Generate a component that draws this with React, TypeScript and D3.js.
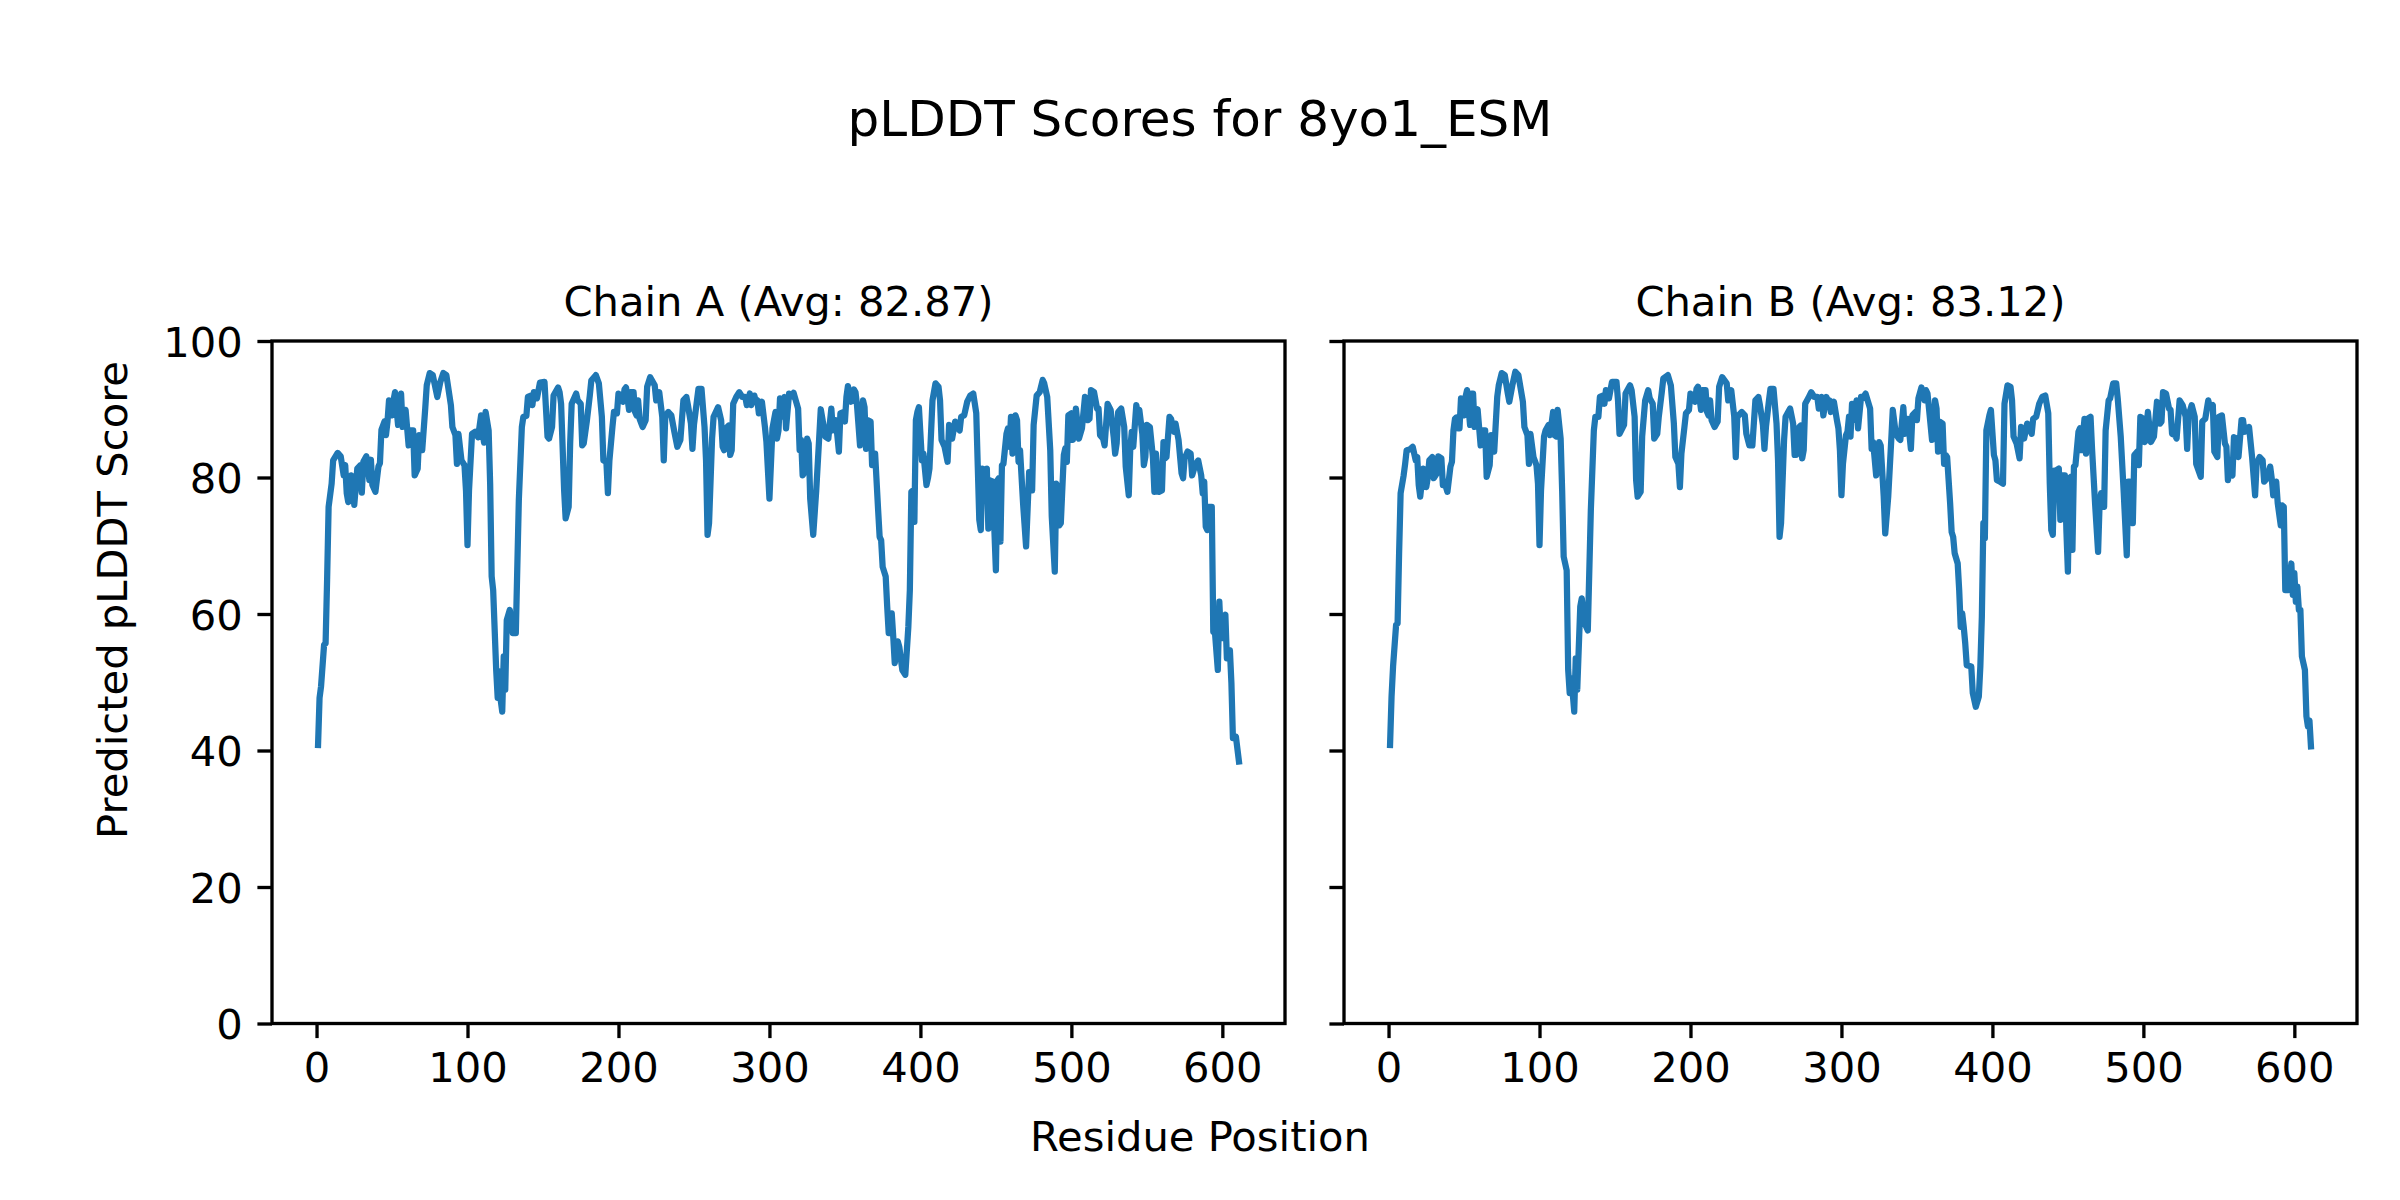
import React, { useEffect, useRef } from 'react';
import * as d3 from 'd3';

const LINE_COLOR = '#1f77b4';
const FONT = '"DejaVu Sans", sans-serif';
const W = 2400;
const H = 1200;
const PLOT = { top: 341, bottom: 1023.5, width: 1013 };
const PANEL_LEFT = [272, 1344];
const TICK = 14.6;
const STROKE = 3.33;

const FIG_TITLE = 'pLDDT Scores for 8yo1_ESM';
const PANEL_TITLES = ['Chain A (Avg: 82.87)', 'Chain B (Avg: 83.12)'];
const X_LABEL = 'Residue Position';
const Y_LABEL = 'Predicted pLDDT Score';
const X_TICKS = [0, 100, 200, 300, 400, 500, 600];
const Y_TICKS = [0, 20, 40, 60, 80, 100];
const X_DOMAIN: [number, number] = [-29.5, 641.5];

// [residue, pLDDT]
const chainA: [number, number][] = [
  [1, 40.8], [2, 47.7], [3, 49.4], [5, 55.5], [6, 55.7], [7, 65], [8, 75.7], [10, 79.1], [11, 82.5], [14, 83.6],
  [16, 83.1], [18, 80.3], [19, 81.8], [20, 77.7], [21, 76.4], [23, 80.3], [24, 80], [25, 76], [27, 81.3], [29, 81.8],
  [30, 77.8], [31, 82.3], [33, 83.1], [35, 79.6], [36, 82.6], [37, 78.9], [39, 77.9], [41, 81.6], [42, 82.1], [43, 87],
  [45, 88.2], [46, 86.2], [47, 88.2], [48, 91.3], [50, 89.1], [51, 91.3], [52, 92.5], [54, 87.7], [55, 91.3], [56, 92.3],
  [57, 87.4], [59, 89.9], [61, 84.7], [62, 86.9], [64, 86.9], [65, 80.3], [67, 81.3], [68, 86.2], [70, 84], [72, 90.1],
  [73, 93.5], [75, 95.3], [77, 95], [80, 91.8], [82, 94], [84, 95.3], [86, 95], [89, 90.6], [90, 87.4], [92, 86.2],
  [93, 82], [94, 86.4], [96, 82.5], [98, 81.8], [99, 78.1], [100, 70.1], [101, 78.1], [103, 86.4], [105, 86.7], [107, 85.9],
  [109, 89.1], [110, 86.5], [111, 85.1], [112, 89.6], [114, 86.9], [115, 79.1], [116, 65.5], [117, 63.5], [119, 51.8], [120, 47.7],
  [121, 51.6], [122, 47.4], [123, 45.7], [124, 53.8], [125, 48.9], [126, 59.1], [128, 60.6], [130, 57.2], [132, 57.2], [134, 76.7],
  [136, 87.4], [137, 88.9], [139, 89], [140, 91.8], [142, 92], [143, 90.6], [144, 92.5], [146, 91.6], [148, 93.9], [151, 94],
  [153, 86], [154, 85.7], [156, 87.4], [157, 92], [160, 93.2], [161, 92.5], [162, 90.8], [164, 78.1], [165, 74], [167, 75.7],
  [168, 85], [169, 90.8], [172, 92.3], [173, 91.3], [175, 90.8], [176, 84.7], [177, 85], [179, 88.2], [181, 92], [182, 94.2],
  [185, 95], [187, 93.8], [189, 88.9], [190, 82.5], [192, 82.3], [193, 77.7], [194, 82.5], [196, 87.4], [197, 89.6], [199, 89.4],
  [200, 92.3], [203, 91.1], [204, 92.9], [205, 93.2], [207, 89.9], [208, 92.5], [210, 92.5], [211, 89.6], [212, 89.1], [213, 91.3],
  [214, 88.6], [216, 87.4], [218, 88.4], [219, 93.3], [221, 94.7], [224, 93.5], [225, 91.3], [227, 92.5], [229, 88.9], [230, 82.5],
  [231, 88.9], [233, 89.6], [235, 89.1], [237, 86.7], [239, 84.5], [241, 85.5], [243, 91.3], [245, 91.8], [246, 90.6], [248, 87.9],
  [249, 84.2], [250, 87.7], [252, 91.3], [253, 93], [255, 93], [257, 87.4], [258, 82.5], [259, 71.6], [260, 73.3], [262, 85.7],
  [263, 88.9], [266, 90.3], [268, 88.4], [269, 84.5], [270, 84], [272, 87.4], [273, 87.6], [274, 83.3], [275, 84], [276, 90.8],
  [278, 91.8], [280, 92.5], [282, 91.8], [284, 91.8], [285, 90.6], [287, 92.3], [288, 90.6], [290, 92], [291, 91.1], [292, 91.3],
  [293, 89.4], [295, 91.1], [297, 87.4], [298, 85.2], [300, 76.9], [301, 82], [302, 87.2], [304, 89.6], [305, 85.7], [306, 86.9],
  [307, 91.6], [308, 88.9], [310, 91.8], [311, 87.2], [313, 92.3], [314, 91.8], [316, 92.4], [319, 90.1], [320, 84], [321, 85.5],
  [322, 80.3], [324, 81], [325, 85.7], [326, 85], [327, 76.9], [329, 71.6], [331, 78.1], [333, 86], [334, 90], [336, 87.4],
  [337, 86], [339, 85.7], [341, 90.1], [342, 86.9], [344, 88.4], [346, 83.8], [347, 89.4], [349, 89.6], [350, 88.2], [351, 91.8],
  [352, 93.4], [354, 91.1], [356, 92.9], [357, 92.5], [358, 90.6], [360, 84.7], [361, 87.4], [362, 91.3], [363, 90.3], [364, 84.2],
  [365, 88.4], [367, 88.2], [368, 81.8], [369, 83.5], [370, 83.5], [372, 75.2], [373, 71.3], [374, 70.8], [375, 66.9], [377, 65.5],
  [378, 61.1], [379, 57.2], [380, 57.2], [381, 60.1], [382, 56.7], [383, 52.8], [385, 56], [386, 55.2], [388, 51.8], [390, 51.1],
  [392, 58.1], [393, 63.5], [394, 77.9], [395, 78.1], [396, 73.5], [397, 88.4], [398, 89.6], [399, 90.3], [401, 82.5], [402, 83.5],
  [404, 78.9], [405, 79.9], [406, 81.3], [408, 91.3], [410, 93.8], [412, 93.3], [413, 91.3], [414, 85.5], [416, 84.5], [418, 82.3],
  [419, 87.7], [421, 85.7], [423, 88.2], [424, 87.7], [426, 86.9], [427, 88.9], [429, 89.1], [431, 91.1], [433, 92], [435, 92.3],
  [437, 89.4], [438, 81.6], [439, 73.8], [440, 72.3], [441, 81.3], [442, 81.1], [444, 81.3], [445, 72.5], [446, 79.6], [448, 79.4],
  [449, 72.3], [450, 66.4], [451, 79.6], [452, 79.9], [453, 70.6], [454, 81.8], [455, 82], [457, 86.4], [458, 87.2], [459, 84.5],
  [460, 88.9], [461, 83.5], [463, 89.1], [464, 88.4], [465, 82.3], [466, 84], [468, 76.2], [470, 69.9], [472, 80.8], [474, 78.1],
  [475, 87.7], [477, 92], [479, 92.5], [481, 94.3], [482, 93.8], [484, 91.8], [486, 84], [487, 74.3], [489, 66.2], [490, 79.1],
  [491, 78.6], [492, 73], [493, 73.3], [495, 83.3], [496, 84.3], [497, 82.3], [498, 89.1], [500, 89.4], [501, 85.5], [503, 90.1],
  [505, 85.7], [507, 87.2], [509, 91.8], [510, 91.6], [511, 88.4], [512, 88.6], [513, 92.8], [515, 92.5], [517, 90.1], [518, 90.1],
  [519, 86.2], [521, 85.7], [522, 84.7], [524, 90.8], [526, 89.9], [528, 86], [529, 83.5], [530, 85], [531, 89.6], [533, 90.1],
  [535, 87.4], [536, 81.6], [538, 77.4], [539, 84.2], [540, 86.7], [541, 84.5], [543, 90.6], [544, 89.4], [545, 89.9], [547, 86.4],
  [548, 81.8], [549, 83], [550, 87.7], [552, 87.4], [554, 83], [555, 77.9], [556, 83.5], [558, 77.9], [560, 78.1], [561, 85.2],
  [562, 82.8], [563, 83], [565, 88.9], [566, 88.6], [568, 86.7], [569, 87.9], [571, 85.5], [573, 80.6], [574, 79.9], [575, 82.8],
  [577, 83.8], [579, 83.5], [580, 80.3], [582, 81.8], [584, 82.5], [586, 80.3], [587, 77.7], [588, 79.4], [589, 72.8], [590, 72.3],
  [591, 75.7], [593, 75.7], [594, 57.4], [595, 57.6], [597, 51.8], [598, 61.8], [599, 56.7], [600, 56.5], [601, 59.6], [602, 59.9],
  [603, 53.5], [605, 54.7], [606, 49.9], [607, 41.8], [609, 42], [611, 38.4],
];

const chainB: [number, number][] = [
  [1, 40.8], [2, 47.9], [3, 52.3], [5, 58.4], [6, 58.6], [7, 68.9], [8, 77.7], [10, 80.3], [11, 82], [12, 84],
  [14, 84.1], [16, 84.5], [18, 82.5], [19, 83], [20, 78.9], [21, 77.2], [23, 81.3], [25, 78.6], [26, 80], [27, 82.5],
  [29, 83], [30, 79.9], [32, 80.6], [33, 83.1], [35, 82.8], [36, 78.9], [37, 79.4], [39, 77.9], [41, 81.6], [42, 82.3],
  [43, 86.9], [44, 88.6], [45, 88.8], [46, 87.2], [47, 87.2], [48, 91.6], [50, 89.1], [51, 91.8], [52, 92.8], [54, 87.7],
  [55, 92.3], [56, 92.3], [57, 87.4], [59, 90], [61, 84.7], [62, 86.9], [64, 86.9], [65, 80.1], [67, 81.8], [68, 86.2],
  [70, 83.8], [72, 91.8], [73, 93.5], [75, 95.3], [77, 95], [79, 92.3], [80, 91.1], [82, 93.5], [84, 95.5], [86, 95],
  [89, 91.1], [90, 87.4], [92, 86.2], [93, 82], [94, 86.4], [96, 83], [98, 81.8], [99, 79.1], [100, 70.1], [101, 78.1],
  [103, 86], [104, 86.9], [106, 87.7], [107, 86.2], [109, 89.6], [110, 86.2], [111, 86], [112, 89.9], [114, 85.7], [115, 78.1],
  [116, 68.4], [118, 66.4], [119, 51.8], [120, 48.4], [121, 50.6], [122, 48.4], [123, 45.7], [124, 53.5], [125, 48.9], [127, 61.1],
  [128, 62.3], [130, 58.6], [132, 57.6], [134, 75.2], [136, 86.9], [137, 88.9], [139, 88.9], [140, 91.8], [142, 92], [143, 90.8],
  [144, 92.8], [146, 91.6], [148, 94], [151, 94], [152, 91.3], [153, 86.4], [156, 87.7], [157, 92.3], [160, 93.5], [161, 92.8],
  [163, 88.9], [164, 79.6], [165, 77.2], [167, 77.9], [168, 86], [170, 91.3], [172, 92.8], [173, 91.6], [175, 90.8], [176, 85.7],
  [178, 86.4], [179, 88.9], [181, 92.5], [182, 94.5], [185, 95], [187, 93.5], [189, 87.9], [190, 83], [192, 82], [193, 78.6],
  [194, 83.5], [196, 87.4], [197, 89.4], [199, 89.9], [200, 92.3], [203, 91.1], [204, 93], [205, 93.3], [207, 89.9], [208, 92.8],
  [210, 92.8], [211, 89.6], [212, 89.1], [213, 91.3], [214, 88.4], [216, 87.4], [218, 88.2], [219, 93.3], [221, 94.7], [224, 93.8],
  [225, 91.3], [227, 92.8], [229, 88.9], [230, 83], [231, 88.9], [234, 89.6], [236, 89.1], [237, 86.4], [239, 84.7], [241, 84.7],
  [243, 91.3], [245, 91.8], [246, 90.6], [248, 87.7], [249, 84.2], [250, 87.4], [252, 91.3], [253, 93], [255, 93], [257, 87.9],
  [258, 82.5], [259, 71.3], [260, 73.3], [262, 85.5], [263, 88.9], [266, 90.1], [268, 87.9], [269, 83.3], [270, 83.3], [272, 87.4],
  [273, 87.6], [274, 82.8], [275, 84], [276, 90.8], [278, 91.6], [280, 92.5], [282, 91.8], [284, 91.8], [285, 90.1], [287, 91.8],
  [288, 89.1], [290, 91.8], [291, 91.3], [292, 91.3], [293, 89.6], [295, 91.1], [297, 88.4], [298, 87.2], [299, 84], [300, 77.4],
  [301, 82], [303, 86.2], [304, 86.7], [305, 88.9], [306, 86], [307, 90.8], [308, 88.4], [310, 91.3], [311, 87.2], [313, 91.8],
  [314, 91.6], [316, 92.3], [319, 90.1], [320, 84.2], [321, 85.2], [323, 80.3], [324, 81.6], [325, 85.2], [326, 84.7], [328, 77.2],
  [329, 71.8], [331, 77.2], [333, 85.5], [334, 89.9], [336, 86.4], [338, 85.7], [339, 85.5], [341, 90.3], [342, 86.4], [344, 88.6],
  [346, 84.2], [347, 89.1], [349, 89.6], [350, 88.4], [351, 91.6], [353, 93.2], [355, 91.3], [356, 92.8], [357, 92.3], [358, 90.1],
  [360, 85.5], [361, 86.9], [362, 91.3], [363, 90.1], [364, 83.8], [365, 88.2], [367, 87.9], [368, 82], [369, 83.3], [370, 83],
  [372, 76.2], [373, 72], [374, 71.3], [375, 68.9], [377, 67.4], [378, 63.5], [379, 58.1], [380, 60.1], [381, 58.1], [382, 55.7],
  [383, 52.5], [386, 52.3], [387, 48.4], [389, 46.4], [391, 47.9], [392, 52.3], [393, 59.6], [394, 73.3], [395, 71.1], [396, 86.9],
  [398, 89.1], [399, 89.9], [401, 83.3], [402, 82.5], [403, 79.6], [405, 79.4], [407, 79.1], [408, 90.8], [410, 93.5], [412, 93.3],
  [413, 91.3], [414, 86], [416, 85], [418, 82.8], [419, 87.4], [421, 85.7], [423, 87.9], [424, 87.7], [426, 86.4], [427, 88.6],
  [429, 88.9], [431, 90.8], [433, 91.8], [435, 92], [437, 89.4], [438, 79.1], [439, 72.3], [440, 71.6], [441, 81], [442, 81],
  [444, 81.3], [445, 73.8], [446, 80.3], [448, 80.3], [449, 72.3], [450, 66.2], [451, 79.9], [452, 80.1], [453, 69.4], [454, 81.6],
  [455, 81.8], [457, 86.7], [458, 87.2], [459, 84], [461, 88.6], [462, 83.5], [463, 88.6], [465, 88.9], [466, 84.2], [468, 76.2],
  [470, 69.1], [471, 76.2], [472, 77.7], [474, 75.7], [475, 86.9], [477, 91.3], [478, 91.6], [480, 93.8], [482, 93.8], [483, 91.6],
  [485, 86], [487, 77.7], [489, 68.6], [490, 79.4], [491, 79.4], [493, 73.3], [494, 83.3], [496, 83.8], [497, 81.8], [498, 88.9],
  [500, 88.6], [501, 85.2], [503, 89.6], [505, 85.2], [507, 86], [509, 91.1], [510, 90.3], [511, 87.9], [512, 88.2], [513, 92.5],
  [515, 92.3], [517, 90.1], [518, 89.9], [519, 86.4], [521, 86.2], [522, 85.7], [524, 91.3], [526, 90.6], [528, 88.9], [529, 84.2],
  [530, 89.1], [532, 90.6], [534, 88.9], [535, 82], [538, 80.1], [539, 88.2], [541, 88.6], [543, 91.3], [544, 90.3], [546, 90.6],
  [547, 83.8], [549, 83], [550, 88.9], [552, 89.1], [554, 85], [555, 84.5], [556, 79.6], [557, 81.1], [559, 80.3], [560, 85.9],
  [562, 85.7], [563, 83], [565, 88.4], [566, 88.4], [567, 86.7], [570, 87.4], [572, 83], [574, 77.4], [575, 82], [577, 83],
  [579, 82.5], [580, 79.4], [582, 79.9], [584, 81.6], [585, 79.9], [586, 77.4], [588, 79.4], [589, 76.2], [591, 73], [592, 75.9],
  [593, 75.7], [594, 63.5], [596, 63.5], [598, 67.4], [599, 62.8], [600, 66], [601, 61.8], [602, 64], [603, 60.6], [604, 60.6],
  [605, 53.8], [607, 51.8], [608, 45], [609, 43.5], [610, 44.4], [611, 40.6],
];

const CHAINS = [chainA, chainB];

const App: React.FC = () => {
  const svgRef = useRef<SVGSVGElement>(null);

  useEffect(() => {
    const svg = d3.select(svgRef.current);
    svg.selectAll('*').remove();
    svg.attr('width', W).attr('height', H).style('background', '#fff');

    const y = d3.scaleLinear().domain([0, 100]).range([PLOT.bottom, PLOT.top]);

    // Figure title and shared axis labels
    svg.append('text')
      .attr('x', W / 2).attr('y', 136)
      .attr('text-anchor', 'middle')
      .attr('font-family', FONT).attr('font-size', 50)
      .text(FIG_TITLE);

    svg.append('text')
      .attr('x', W / 2).attr('y', 1151)
      .attr('text-anchor', 'middle')
      .attr('font-family', FONT).attr('font-size', 41.67)
      .text(X_LABEL);

    svg.append('text')
      .attr('transform', `translate(127,${H / 2}) rotate(-90)`)
      .attr('text-anchor', 'middle')
      .attr('font-family', FONT).attr('font-size', 41.67)
      .text(Y_LABEL);

    CHAINS.forEach((data, i) => {
      const left = PANEL_LEFT[i];
      const x = d3.scaleLinear().domain(X_DOMAIN).range([left, left + PLOT.width]);
      const g = svg.append('g');

      g.append('text')
        .attr('x', left + PLOT.width / 2).attr('y', PLOT.top - 25)
        .attr('text-anchor', 'middle')
        .attr('font-family', FONT).attr('font-size', 41.67)
        .text(PANEL_TITLES[i]);

      const clipId = `clip-${i}`;
      svg.append('defs').append('clipPath').attr('id', clipId)
        .append('rect')
        .attr('x', left).attr('y', PLOT.top)
        .attr('width', PLOT.width).attr('height', PLOT.bottom - PLOT.top);

      const line = d3.line<[number, number]>()
        .x(d => x(d[0]))
        .y(d => y(d[1]));

      g.append('path')
        .datum(data)
        .attr('clip-path', `url(#${clipId})`)
        .attr('fill', 'none')
        .attr('stroke', LINE_COLOR)
        .attr('stroke-width', 6.25)
        .attr('stroke-linejoin', 'round')
        .attr('stroke-linecap', 'square')
        .attr('d', line);

      // x axis
      g.append('g')
        .attr('transform', `translate(0,${PLOT.bottom})`)
        .call(d3.axisBottom(x).tickValues(X_TICKS).tickSize(TICK).tickPadding(TICK).tickFormat(d3.format('d')))
        .call(sel => {
          sel.select('.domain').remove();
          sel.attr('font-family', FONT).attr('font-size', 41.67).attr('color', '#000');
          sel.selectAll('.tick line').attr('stroke-width', STROKE);
        });

      // y axis (labels only on the first panel, shared y)
      g.append('g')
        .attr('transform', `translate(${left},0)`)
        .call(d3.axisLeft(y).tickValues(Y_TICKS).tickSize(TICK).tickPadding(TICK)
          .tickFormat(i === 0 ? d3.format('d') : () => ''))
        .call(sel => {
          sel.select('.domain').remove();
          sel.attr('font-family', FONT).attr('font-size', 41.67).attr('color', '#000');
          sel.selectAll('.tick line').attr('stroke-width', STROKE);
          sel.selectAll('.tick text').attr('dy', '0.36em');
        });

      // frame
      g.append('rect')
        .attr('x', left).attr('y', PLOT.top)
        .attr('width', PLOT.width).attr('height', PLOT.bottom - PLOT.top)
        .attr('fill', 'none').attr('stroke', '#000').attr('stroke-width', STROKE)
        .attr('stroke-linejoin', 'miter');
    });
  }, []);

  return (
    <div style={{ position: 'absolute', left: 0, top: 0, width: W, height: H, background: '#fff' }}>
      <svg ref={svgRef} style={{ display: 'block' }} />
    </div>
  );
};

export default App;
